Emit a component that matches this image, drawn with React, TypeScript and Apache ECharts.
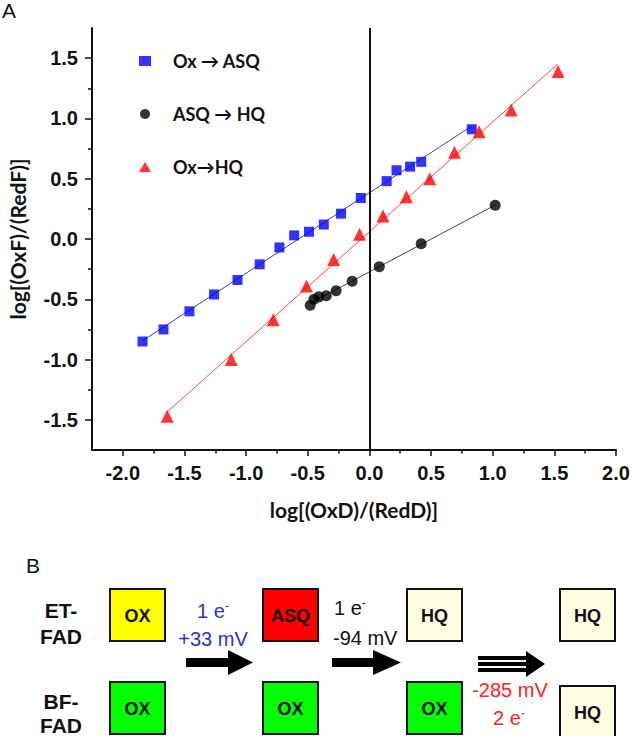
import React, { useEffect, useRef } from "react";
import * as echarts from "echarts";

// ---- Panel A data ----
const oxAsqX = [-1.84, -1.67, -1.46, -1.26, -1.07, -0.89, -0.73, -0.61, -0.49, -0.37, -0.23, -0.07, 0.14, 0.22, 0.33, 0.42, 0.83];
const oxAsqY = [-0.85, -0.75, -0.6, -0.46, -0.34, -0.21, -0.07, 0.03, 0.06, 0.12, 0.21, 0.34, 0.48, 0.57, 0.6, 0.64, 0.91];

const asqHqX = [-0.48, -0.45, -0.41, -0.35, -0.27, -0.14, 0.08, 0.42, 1.02];
const asqHqY = [-0.55, -0.5, -0.48, -0.47, -0.43, -0.35, -0.23, -0.04, 0.28];

const oxHqX = [-1.64, -1.12, -0.78, -0.51, -0.29, -0.08, 0.11, 0.3, 0.49, 0.69, 0.89, 1.15, 1.53];
const oxHqY = [-1.47, -1.0, -0.67, -0.39, -0.17, 0.04, 0.19, 0.35, 0.5, 0.72, 0.89, 1.07, 1.39];

const seriesNames = ["Ox \u2192 ASQ", "ASQ \u2192 HQ", "Ox\u2192HQ"];

const xMajorTicks = [-2, -1.5, -1, -0.5, 0, 0.5, 1, 1.5, 2];
const xMinorTicks = [-1.75, -1.25, -0.75, -0.25, 0.25, 0.75, 1.25, 1.75];
const yMajorTicks = [-1.5, -1, -0.5, 0, 0.5, 1, 1.5];
const yMinorTicks = [-1.25, -0.75, -0.25, 0.25, 0.75, 1.25];

const xTitle = "log[(OxD)/(RedD)]";
const yTitle = "log[(OxF)/(RedF)]";

// ---- Panel B labels ----
const rowLabels = [["ET-", "FAD"], ["BF-", "FAD"]];
const topBoxes = ["OX", "ASQ", "HQ", "HQ"];
const bottomBoxes = ["OX", "OX", "OX", "HQ"];
const topColors = ["#ffff00", "#ff0000", "#fffde2", "#fffde2"];
const bottomColors = ["#00ff00", "#00ff00", "#00ff00", "#fffde2"];

const SANS = '"Liberation Sans", Arial, sans-serif';
const HUM = 'Lato, "Open Sans", sans-serif';

function zip(xs: number[], ys: number[]) {
  return xs.map((x, i) => [x, ys[i]]);
}

function fit(xs: number[], ys: number[]) {
  const n = xs.length;
  const mx = xs.reduce((a, b) => a + b, 0) / n;
  const my = ys.reduce((a, b) => a + b, 0) / n;
  let sxy = 0, sxx = 0;
  for (let i = 0; i < n; i++) {
    sxy += (xs[i] - mx) * (ys[i] - my);
    sxx += (xs[i] - mx) * (xs[i] - mx);
  }
  const b = sxy / sxx;
  const a = my - b * mx;
  const x0 = Math.min(...xs), x1 = Math.max(...xs);
  return [[x0, a + b * x0], [x1, a + b * x1]];
}

function txt(text: string, x: number, y: number, font: string, fill: string, align = "center") {
  return {
    type: "text",
    x, y, silent: true,
    style: { text, font, fill, textAlign: align, align, textVerticalAlign: "middle", verticalAlign: "middle" },
  };
}

function supText(base: string, x: number, y: number, fill: string, align = "center") {
  return {
    type: "text",
    x, y, silent: true,
    style: {
      text: `{a|${base}}{s|-}`,
      fill,
      textAlign: align, align,
      textVerticalAlign: "middle", verticalAlign: "middle",
      rich: {
        a: { fontSize: 20, fontFamily: SANS, fill, lineHeight: 22 },
        s: { fontSize: 12, fontFamily: SANS, fill, verticalAlign: "top", lineHeight: 22 },
      },
    },
  };
}

function box(x: number, y: number, label: string, fill: string) {
  return [
    { type: "rect", silent: true, shape: { x, y, width: 55, height: 52 }, style: { fill, stroke: "#111", lineWidth: 2 } },
    txt(label, x + 27.5, y + 27, `bold 18px ${SANS}`, label === "ASQ" ? "#1a0000" : "#111"),
  ];
}

function buildPanelB() {
  const els: any[] = [];
  els.push(txt("A", 2, 10.5, `21px ${SANS}`, "#111", "left"));
  els.push(txt("B", 26, 565.5, `21px ${SANS}`, "#111", "left"));
  els.push(txt(rowLabels[0][0], 61, 610, `bold 21px ${SANS}`, "#111"));
  els.push(txt(rowLabels[0][1], 61, 636, `bold 21px ${SANS}`, "#111"));
  els.push(txt(rowLabels[1][0], 61, 701, `bold 21px ${SANS}`, "#111"));
  els.push(txt(rowLabels[1][1], 61, 725, `bold 21px ${SANS}`, "#111"));
  const cols = [110, 263, 407, 560];
  topBoxes.forEach((l, i) => els.push(...box(cols[i], 589, l, topColors[i])));
  bottomBoxes.forEach((l, i) => els.push(...box(cols[i], i === 3 ? 686 : 682, l, bottomColors[i])));
  // captions
  els.push(supText("1 e", 213, 611, "#2f2fd6"));
  els.push(txt("+33 mV", 213, 638.5, `20px ${SANS}`, "#2f2fd6"));
  els.push(supText("1 e", 334, 608, "#111", "left"));
  els.push(txt("-94 mV", 333, 638, `20px ${SANS}`, "#111", "left"));
  els.push(txt("-285 mV", 510, 690, `20px ${SANS}`, "#ff2020"));
  els.push(supText("2 e", 509, 718, "#ff2020"));
  // arrows
  els.push({ type: "rect", silent: true, shape: { x: 186, y: 658, width: 43, height: 9 }, style: { fill: "#000" } });
  els.push({ type: "polygon", silent: true, shape: { points: [[228, 650], [253, 662.5], [228, 675]] }, style: { fill: "#000" } });
  els.push({ type: "rect", silent: true, shape: { x: 332, y: 658, width: 42, height: 9 }, style: { fill: "#000" } });
  els.push({ type: "polygon", silent: true, shape: { points: [[373, 650], [401, 662.5], [373, 675]] }, style: { fill: "#000" } });
  [656, 662, 668].forEach((y) =>
    els.push({ type: "rect", silent: true, shape: { x: 478, y, width: 52, height: 4 }, style: { fill: "#000" } })
  );
  els.push({ type: "polygon", silent: true, shape: { points: [[526, 651], [545, 664], [526, 677]] }, style: { fill: "#000" } });
  return els;
}

export default function App() {
  const ref = useRef<HTMLDivElement>(null);
  useEffect(() => {
    if (!ref.current) return;
    const chart = echarts.init(ref.current, null, { renderer: "svg" });
    const axisLine = { show: true, onZero: false, lineStyle: { color: "#111", width: 2 } };
    const labelStyle = { fontFamily: SANS, fontWeight: "bold", fontSize: 20, color: "#111" };
    const nameStyle = { fontFamily: HUM, fontWeight: "bold", fontSize: 21, color: "#111" };
    const option: any = {
      animation: false,
      backgroundColor: "#ffffff",
      grid: { left: 92, right: 17, top: 28, bottom: 286, containLabel: false, outerBoundsMode: "none" },
      legend: {
        orient: "vertical",
        left: 139,
        top: 51,
        padding: 0,
        itemWidth: 12,
        itemHeight: 10,
        itemGap: 33,
        selectedMode: false,
        data: seriesNames,
        textStyle: { fontFamily: HUM, fontWeight: "bold", fontSize: 18, color: "#111", lineHeight: 20, padding: [0, 0, 0, 17] },
      },
      xAxis: [
        {
          type: "value", min: -2.25, max: 2, position: "bottom",
          axisLine,
          splitLine: { show: false },
          axisTick: { show: true, inside: false, length: 6, customValues: xMajorTicks, lineStyle: { color: "#111", width: 1.5 } },
          axisLabel: { ...labelStyle, margin: 13, customValues: xMajorTicks, formatter: (v: number) => v.toFixed(1) },
          name: xTitle, nameLocation: "middle", nameGap: 49, nameTextStyle: nameStyle,
        },
        {
          type: "value", min: -2.25, max: 2, position: "bottom",
          axisLine: { show: false, onZero: false },
          splitLine: { show: false },
          axisTick: { show: true, inside: false, length: 3.5, customValues: xMinorTicks, lineStyle: { color: "#111", width: 1.5 } },
          axisLabel: { show: false },
        },
      ],
      yAxis: [
        {
          type: "value", min: -1.75, max: 1.75, position: "left",
          axisLine,
          splitLine: { show: false },
          axisTick: { show: true, inside: false, length: 7, customValues: yMajorTicks, lineStyle: { color: "#111", width: 1.5 } },
          axisLabel: { ...labelStyle, margin: 14, customValues: yMajorTicks, formatter: (v: number) => v.toFixed(1) },
          name: yTitle, nameLocation: "middle", nameGap: 64, nameRotate: 90, nameTextStyle: nameStyle,
        },
        {
          type: "value", min: -1.75, max: 1.75, position: "left",
          axisLine: { show: false, onZero: false },
          splitLine: { show: false },
          axisTick: { show: true, inside: false, length: 4, customValues: yMinorTicks, lineStyle: { color: "#111", width: 1.5 } },
          axisLabel: { show: false },
        },
      ],
      series: [
        {
          name: "fit-blue", type: "line", data: fit(oxAsqX, oxAsqY), symbol: "none", silent: true, z: 2,
          lineStyle: { color: "#3a3ad0", width: 1 },
          markLine: {
            silent: true, symbol: ["none", "none"], label: { show: false },
            lineStyle: { color: "#111", width: 2, type: "solid" },
            data: [{ xAxis: 0 }],
          },
        },
        { name: "fit-black", type: "line", data: fit(asqHqX, asqHqY), symbol: "none", silent: true, z: 2, lineStyle: { color: "#444", width: 1 } },
        { name: "fit-red", type: "line", data: fit(oxHqX, oxHqY), symbol: "none", silent: true, z: 2, lineStyle: { color: "#ff4444", width: 1 } },
        { name: seriesNames[0], type: "scatter", data: zip(oxAsqX, oxAsqY), symbol: "rect", symbolSize: 10, itemStyle: { color: "#0000ff" }, z: 3 },
        { name: seriesNames[1], type: "scatter", data: zip(asqHqX, asqHqY), symbol: "circle", symbolSize: 11, itemStyle: { color: "#000000" }, z: 3 },
        { name: seriesNames[2], type: "scatter", data: zip(oxHqX, oxHqY), symbol: "triangle", symbolSize: 13, itemStyle: { color: "#ff0000" }, z: 3 },
      ],
      graphic: buildPanelB(),
    };
    chart.setOption(option);
    return () => chart.dispose();
  }, []);
  return <div ref={ref} style={{ position: "fixed", left: 0, top: 0, width: 633, height: 736, background: "#fff" }} />;
}
